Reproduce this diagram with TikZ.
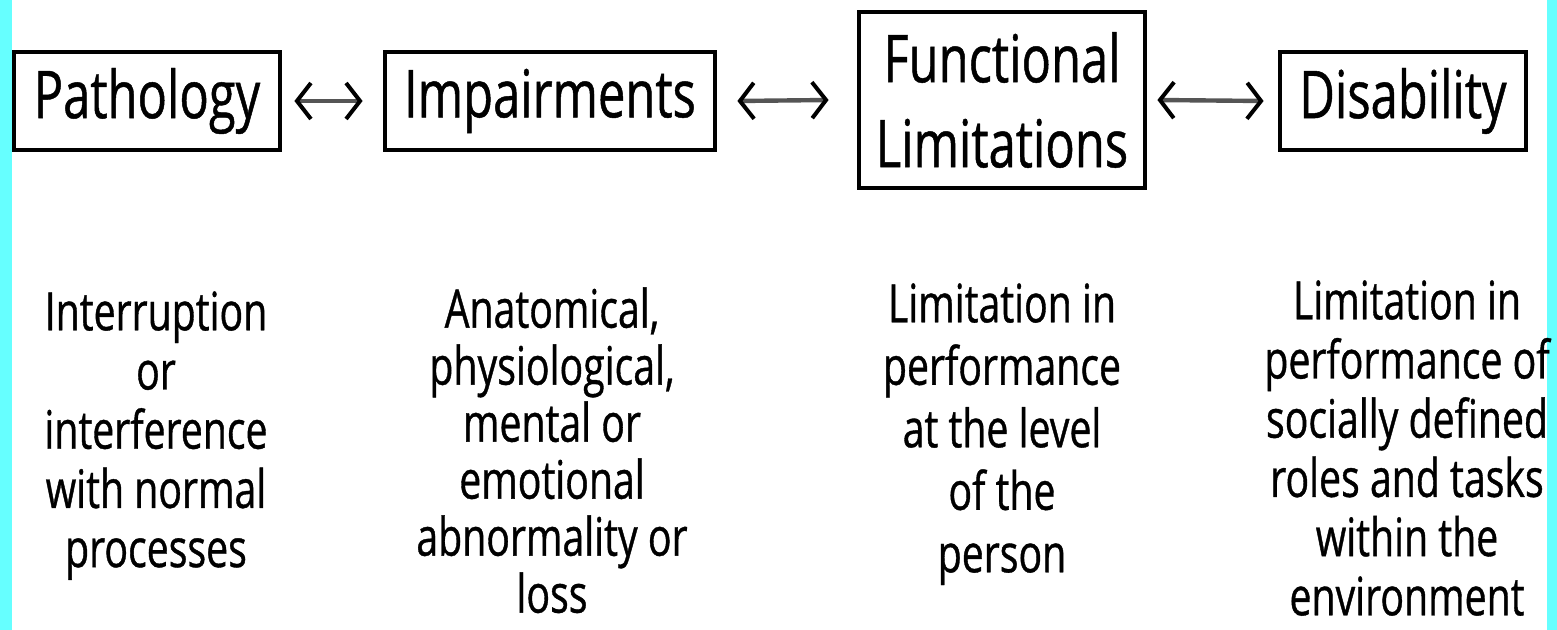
\documentclass[tikz,border=0pt]{standalone}
\usepackage{fontspec}
\setmainfont{Open Sans}[FakeStretch=0.74,FakeBold=0.7]
\usetikzlibrary{arrows.meta}
\definecolor{cyanbar}{HTML}{66FFFF}
\definecolor{shaft}{HTML}{555555}
\tikzset{mybarb/.tip={Straight Barb[length=7pt,width=18pt,line width=2pt,color=black]}}
\begin{document}
\begin{tikzpicture}[x=0.5pt,y=-0.5pt,
  box/.style={draw=black,line width=2.4pt,inner sep=0pt,font=\fontsize{33}{42.5}\selectfont,align=center},
  desc/.style={align=center,inner sep=0pt,anchor=north,font=\fontsize{26.5}{29.6}\selectfont},
  link/.style={draw=shaft,line width=2.2pt,{mybarb}-{mybarb}}]
\fill[white] (0,0) rectangle (1557,630);
\useasboundingbox (0,0) rectangle (1557,630);
\fill[cyanbar] (0,0) rectangle (12,630);
\fill[cyanbar] (1547,0) rectangle (1557,630);

\node[box,minimum width=133pt,minimum height=49pt] (path) at (147,101) {Pathology};
\node[box,minimum width=165pt,minimum height=49pt] (imp) at (550,101) {Impairments};
\node[box,minimum width=143pt,minimum height=88pt] (func) at (1002,100) {Functional\\Limitations};
\node[box,minimum width=123pt,minimum height=49pt] (dis) at (1403,101) {Disability};

\draw[link] ([xshift=6pt]path.east) -- ([xshift=-10pt]imp.west);
\draw[link] ([xshift=10pt]imp.east) -- ([xshift=-14pt]func.west);
\draw[link] ([xshift=5pt]func.east) -- ([xshift=-7pt]dis.west);

\node[desc] (d1) at (156,291) {Interruption\\or\\interference\\with normal\\processes};
\node[desc,font=\fontsize{26.5}{28.5}\selectfont] (d2) at (552,287) {Anatomical,\\physiological,\\mental or\\emotional\\abnormality or\\loss};
\node[desc,font=\fontsize{26.5}{31.25}\selectfont] (d3) at (1002,283) {Limitation in\\performance\\at the level\\of the\\person};
\node[desc] (d4) at (1407,280) {Limitation in\\performance of\\socially defined\\roles and tasks\\within the\\environment};
\end{tikzpicture}
\end{document}
